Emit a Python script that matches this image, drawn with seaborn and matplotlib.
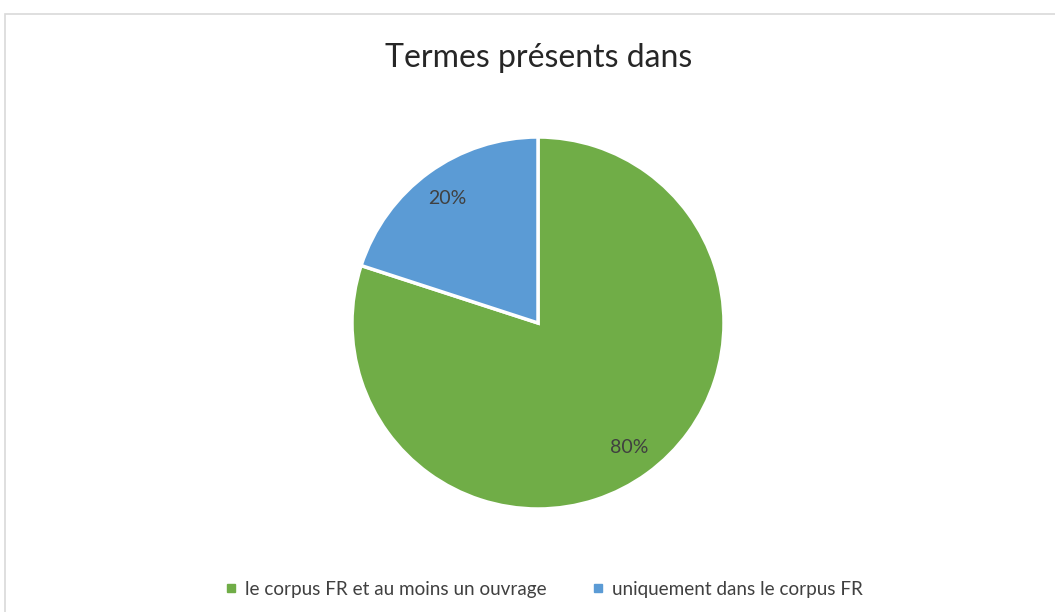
import matplotlib
matplotlib.use("Agg")
import matplotlib.pyplot as plt
import seaborn as sns
from matplotlib.patches import Rectangle
from matplotlib.lines import Line2D

categories = ["le corpus FR et au moins un ouvrage", "uniquement dans le corpus FR"]
values = [80, 20]
colors = ["#70AD47", "#5B9BD5"]
title = "Termes présents dans"

sns.set_theme(style="white")
plt.rcParams['font.family'] = ['Lato', 'DejaVu Sans']

W, H = 1055, 612
fig = plt.figure(figsize=(W / 100, H / 100), dpi=100)
fig.patch.set_facecolor("white")

# light gray frame
fig.add_artist(Rectangle((4.5 / W, -0.05), 1.2, 1 - 13.5 / H + 0.05,
                         transform=fig.transFigure, fill=False,
                         edgecolor="#D9D9D9", linewidth=1.2))

cx, cy, r = 538, H - 323, 186
ax = fig.add_axes([(cx - r) / W, (cy - r) / H, 2 * r / W, 2 * r / H])
wedges, texts, autotexts = ax.pie(
    values, colors=colors, startangle=90, counterclock=False,
    autopct=lambda p: f"{p:.0f}%", pctdistance=0.83, radius=1,
    wedgeprops=dict(edgecolor="white", linewidth=2.5),
    textprops=dict(fontsize=14, color="#404040"))
ax.set_xlim(-1, 1)
ax.set_ylim(-1, 1)
ax.set_aspect("equal")
ax.axis("off")

fig.text(539 / W, 1 - 58 / H, title, ha="center", va="center",
         fontsize=23, color="#262626")

handles = [Line2D([0], [0], marker="s", linestyle="none", markersize=6,
                  markerfacecolor=c, markeredgecolor=c) for c in colors]
fig.legend(handles, categories, loc="center", bbox_to_anchor=(542 / W, 1 - 589 / H),
           ncol=2, frameon=False, fontsize=13.6, handletextpad=0.25,
           columnspacing=2.2, labelcolor="#404040", handlelength=1.0)

fig.savefig("out.png", dpi=100, facecolor="white")
